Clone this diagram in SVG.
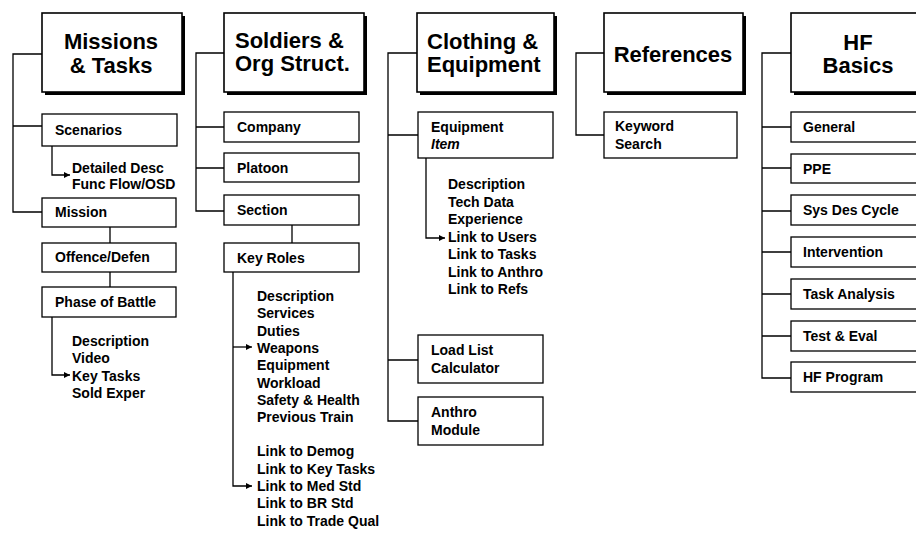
<svg xmlns="http://www.w3.org/2000/svg" width="916" height="536" viewBox="0 0 916 536">
<defs>
<style>
.hb{fill:#fff;stroke:#000;stroke-width:1.6}
.sh{fill:#000}
.ib{fill:#fff;stroke:#000;stroke-width:1.3}
.ht{font-family:"Liberation Sans",Arial,sans-serif;font-weight:bold;font-size:22px;fill:#000}
.it{font-family:"Liberation Sans",Arial,sans-serif;font-weight:bold;font-size:14px;fill:#000}
.c{fill:none;stroke:#000;stroke-width:1.3}
.a{marker-end:url(#arr)}
</style>
<marker id="arr" viewBox="0 0 10 10" refX="10" refY="5" markerWidth="7" markerHeight="6" markerUnits="userSpaceOnUse" orient="auto">
<path d="M0,0 L10,5 L0,10 z" fill="#000"/>
</marker>
</defs>
<rect width="916" height="536" fill="#fff"/>

<g id="connectors">
<!-- column 1 -->
<path class="c" d="M42,54 H13 V212 H42 M13,126 H42"/>
<path class="c" d="M110,227 V243 M110,272 V287"/>
<path class="c a" d="M52,146 V175 H70"/>
<path class="c a" d="M52,317 V375 H70"/>
<!-- column 2 -->
<path class="c" d="M224,53 H196 V211 H224 M196,127 H224 M196,168 H224"/>
<path class="c" d="M292,225 V243"/>
<path class="c a" d="M233,272 V486 H252"/>
<path class="c a" d="M233,347 H252"/>
<!-- column 3 -->
<path class="c" d="M417,53 H388 V421 H418 M388,135 H418 M388,360 H418"/>
<path class="c a" d="M426,158 V238 H445"/>
<!-- column 4 -->
<path class="c" d="M604,53 H576 V135 H604"/>
<!-- column 5 -->
<path class="c" d="M791,53 H762 V378 H791 M762,127 H791 M762,168 H791 M762,211 H791 M762,252 H791 M762,294 H791 M762,336 H791"/>
</g>

<!-- Column 1 -->
<g id="missions-tasks">
<rect class="sh" x="45" y="16" width="140" height="79"/>
<rect class="hb" x="42" y="13" width="140" height="79"/>
<text class="ht" x="111" y="49" text-anchor="middle">Missions</text>
<text class="ht" x="111" y="73" text-anchor="middle">&amp; Tasks</text>
</g>
<g id="scenarios">
<rect class="ib" x="42" y="114" width="135" height="32"/>
<text class="it" x="55" y="135">Scenarios</text>
</g>
<g id="scenarios-detail">
<text class="it" x="72" y="173">Detailed Desc</text>
<text class="it" x="72" y="189">Func Flow/OSD</text>
</g>
<g id="mission">
<rect class="ib" x="42" y="198" width="134" height="29"/>
<text class="it" x="55" y="217">Mission</text>
</g>
<g id="offence-defen">
<rect class="ib" x="42" y="243" width="134" height="29"/>
<text class="it" x="55" y="262">Offence/Defen</text>
</g>
<g id="phase-of-battle">
<rect class="ib" x="42" y="287" width="134" height="30"/>
<text class="it" x="55" y="307">Phase of Battle</text>
</g>
<g id="phase-detail">
<text class="it" x="72" y="345.5">Description</text>
<text class="it" x="72" y="363">Video</text>
<text class="it" x="72" y="380.5">Key Tasks</text>
<text class="it" x="72" y="398">Sold Exper</text>
</g>

<!-- Column 2 -->
<g id="soldiers-org">
<rect class="sh" x="227" y="16" width="140" height="79"/>
<rect class="hb" x="224" y="13" width="140" height="79"/>
<text class="ht" x="235" y="48">Soldiers &amp;</text>
<text class="ht" x="235" y="71">Org Struct.</text>
</g>
<g id="company">
<rect class="ib" x="224" y="112" width="135" height="30"/>
<text class="it" x="237" y="132">Company</text>
</g>
<g id="platoon">
<rect class="ib" x="224" y="153" width="135" height="29"/>
<text class="it" x="237" y="172.5">Platoon</text>
</g>
<g id="section">
<rect class="ib" x="224" y="195" width="135" height="30"/>
<text class="it" x="237" y="215">Section</text>
</g>
<g id="key-roles">
<rect class="ib" x="224" y="243" width="135" height="29"/>
<text class="it" x="237" y="262.5">Key Roles</text>
</g>
<g id="key-roles-detail">
<text class="it" x="257" y="301">Description</text>
<text class="it" x="257" y="318.3">Services</text>
<text class="it" x="257" y="335.6">Duties</text>
<text class="it" x="257" y="352.9">Weapons</text>
<text class="it" x="257" y="370.2">Equipment</text>
<text class="it" x="257" y="387.5">Workload</text>
<text class="it" x="257" y="404.8">Safety &amp; Health</text>
<text class="it" x="257" y="422.1">Previous Train</text>
<text class="it" x="257" y="456.4">Link to Demog</text>
<text class="it" x="257" y="473.7">Link to Key Tasks</text>
<text class="it" x="257" y="491">Link to Med Std</text>
<text class="it" x="257" y="508.3">Link to BR Std</text>
<text class="it" x="257" y="525.6">Link to Trade Qual</text>
</g>

<!-- Column 3 -->
<g id="clothing-equipment">
<rect class="sh" x="420" y="16" width="137" height="79"/>
<rect class="hb" x="417" y="13" width="137" height="79"/>
<text class="ht" x="427" y="49">Clothing &amp;</text>
<text class="ht" x="427" y="72">Equipment</text>
</g>
<g id="equipment-item">
<rect class="ib" x="418" y="112" width="135" height="46"/>
<text class="it" x="431" y="132">Equipment</text>
<text class="it" x="431" y="149" font-style="italic">Item</text>
</g>
<g id="equipment-detail">
<text class="it" x="448" y="189">Description</text>
<text class="it" x="448" y="206.5">Tech Data</text>
<text class="it" x="448" y="224">Experience</text>
<text class="it" x="448" y="241.5">Link to Users</text>
<text class="it" x="448" y="259">Link to Tasks</text>
<text class="it" x="448" y="276.5">Link to Anthro</text>
<text class="it" x="448" y="294">Link to Refs</text>
</g>
<g id="load-list">
<rect class="ib" x="418" y="335" width="125" height="48"/>
<text class="it" x="431" y="355">Load List</text>
<text class="it" x="431" y="373">Calculator</text>
</g>
<g id="anthro-module">
<rect class="ib" x="418" y="397" width="125" height="48"/>
<text class="it" x="431" y="417">Anthro</text>
<text class="it" x="431" y="435">Module</text>
</g>

<!-- Column 4 -->
<g id="references">
<rect class="sh" x="607" y="16" width="139" height="79"/>
<rect class="hb" x="604" y="13" width="139" height="79"/>
<text class="ht" x="673" y="62" text-anchor="middle">References</text>
</g>
<g id="keyword-search">
<rect class="ib" x="604" y="112" width="133" height="46"/>
<text class="it" x="615" y="131">Keyword</text>
<text class="it" x="615" y="149">Search</text>
</g>

<!-- Column 5 -->
<g id="hf-basics">
<rect class="sh" x="794" y="16" width="140" height="79"/>
<rect class="hb" x="791" y="13" width="140" height="79"/>
<text class="ht" x="858" y="50" text-anchor="middle">HF</text>
<text class="ht" x="858" y="73" text-anchor="middle">Basics</text>
</g>
<g id="general">
<rect class="ib" x="791" y="112" width="140" height="30"/>
<text class="it" x="803" y="132">General</text>
</g>
<g id="ppe">
<rect class="ib" x="791" y="154" width="140" height="29"/>
<text class="it" x="803" y="173.5">PPE</text>
</g>
<g id="sys-des-cycle">
<rect class="ib" x="791" y="195" width="140" height="30"/>
<text class="it" x="803" y="215">Sys Des Cycle</text>
</g>
<g id="intervention">
<rect class="ib" x="791" y="237" width="140" height="30"/>
<text class="it" x="803" y="257">Intervention</text>
</g>
<g id="task-analysis">
<rect class="ib" x="791" y="279" width="140" height="30"/>
<text class="it" x="803" y="299">Task Analysis</text>
</g>
<g id="test-eval">
<rect class="ib" x="791" y="321" width="140" height="30"/>
<text class="it" x="803" y="341">Test &amp; Eval</text>
</g>
<g id="hf-program">
<rect class="ib" x="791" y="362" width="140" height="30"/>
<text class="it" x="803" y="382">HF Program</text>
</g>
</svg>
